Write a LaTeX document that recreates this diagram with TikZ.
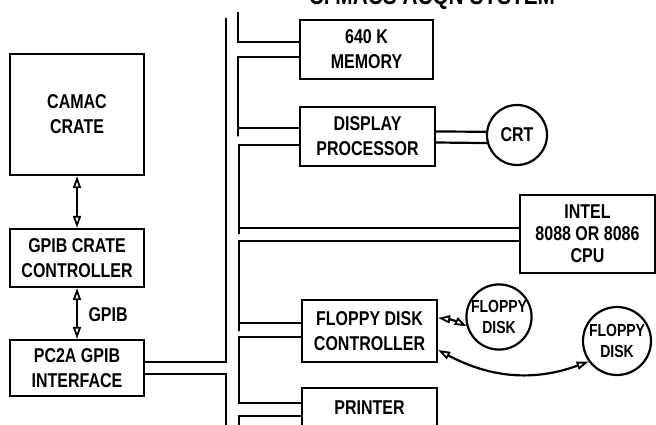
\documentclass[tikz,border=0pt]{standalone}
\usepackage{fontspec}
\setmainfont{Liberation Sans}[FakeStretch=0.8]
\usetikzlibrary{arrows.meta}
\begin{document}
\begin{tikzpicture}[x=1pt,y=-1pt,
  box/.style={draw, line width=2.2pt, font=\bfseries\fontsize{20}{25}\selectfont, align=center, inner sep=0pt},
  disk/.style={draw, circle, line width=2.2pt, inner sep=0pt, align=center, font=\bfseries\fontsize{17.5}{21}\selectfont},
  bus/.style={line width=2.2pt},
  tip/.tip={Triangle[open,length=12pt,width=8pt,line width=1.8pt]},
  dbl/.style={line width=2.4pt, tip-tip}
]
\clip (0,0) rectangle (656,425);
\fill[white] (0,0) rectangle (656,425);
% title (cut off at the top)
\node[anchor=base, font=\bfseries\fontsize{26}{30}\selectfont] (title) at (432,4.5) {C. MACS ACQN SYSTEM};
% left column
\node[box, minimum width=134pt, minimum height=121pt] (camac) at (77,114.5) {CAMAC\\CRATE};
\node[box, minimum width=134pt, minimum height=58pt] (gpibc) at (77,258) {GPIB CRATE\\CONTROLLER};
\node[box, minimum width=134pt, minimum height=56pt] (pc2a) at (77,368) {PC2A GPIB\\INTERFACE};
\draw[dbl] (camac.south) -- (gpibc.north);
\draw[dbl] (gpibc.south) -- (pc2a.north);
\node[font=\bfseries\fontsize{20}{22}\selectfont, anchor=west] (gpiblbl) at (85,315) {GPIB};
% right column boxes
\node[box, minimum width=133pt, minimum height=59pt] (mem) at (366.5,49.5) {640 K\\MEMORY};
\node[box, minimum width=135pt, minimum height=59pt] (disp) at (367.5,136.5) {DISPLAY\\PROCESSOR};
\node[box, minimum width=135pt, minimum height=78pt, font=\bfseries\fontsize{20}{22}\selectfont] (cpu) at (587.5,234) {INTEL\\8088 OR 8086\\CPU};
\node[box, minimum width=135pt, minimum height=62pt] (fdc) at (369.5,331) {FLOPPY DISK\\CONTROLLER};
\node[box, minimum width=135pt, anchor=north, text height=22pt, text depth=40pt, inner sep=4pt] (prn) at (369.5,387) {PRINTER};
% circles
\node[disk, minimum size=60pt, font=\bfseries\fontsize{20}{22}\selectfont] (crt) at (517,135) {CRT};
\node[disk, minimum size=63pt] (fd1) at (499,317) {FLOPPY\\DISK};
\node[disk, minimum size=68pt] (fd2) at (617,341) {FLOPPY\\DISK};
% display -> CRT
\draw[bus] ([yshift=5pt]disp.east) -- (crt.174);
\draw[bus] ([yshift=-6pt]disp.east) -- (crt.195);
% outer bus
\coordinate (o1) at (226,18);
\coordinate (o2) at (226,430);
\draw[bus] (o1) |- ([yshift=6pt]pc2a.east);
\draw[bus] ([yshift=-6pt]pc2a.east) -| (o2);
% inner bus with branches
\coordinate (i0) at (238,12);
\coordinate (i1) at (238,0);
\coordinate (i2) at (239,0);
\coordinate (i3) at (239,430);
\draw[bus] (i0) |- ([yshift=7.5pt]mem.west);
\draw[bus] ([yshift=-7.5pt]mem.west) -| (i1 |- disp.west) |- ([yshift=8.5pt]disp.west);
\draw[bus] ([yshift=-8.5pt]disp.west) -| (i2 |- cpu.west) |- ([yshift=6pt]cpu.west);
\draw[bus] ([yshift=-7pt]cpu.west) -| (i2 |- fdc.west) |- ([yshift=8pt]fdc.west);
\draw[bus] ([yshift=-6pt]fdc.west) -| (i2 |- 0,395) |- ([yshift=20pt]prn.west);
\draw[bus] ([yshift=7pt]prn.west) -| (i3);
% floppy arrows
\draw[dbl, line width=2.2pt] ([yshift=13pt]fdc.east) to[bend left=10] (fd1.196);
\draw[dbl, line width=2.2pt] ([yshift=-19pt]fdc.east) to[out=-28,in=200] (fd2.216);
\end{tikzpicture}
\end{document}
